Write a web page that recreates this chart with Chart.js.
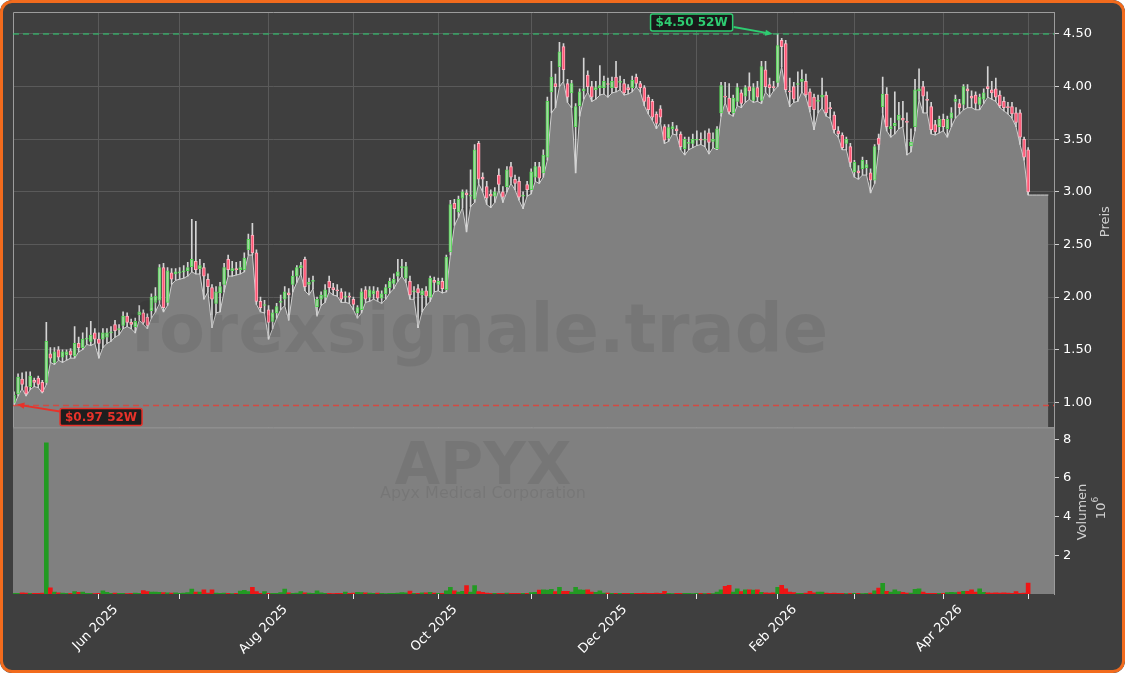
<!DOCTYPE html>
<html>
<head>
<meta charset="utf-8">
<script src="https://cdn.jsdelivr.net/npm/chart.js"></script>
<style>
  html,body{margin:0;padding:0;background:#ffffff;}
  #wrap{position:relative;width:1125px;height:673px;border-radius:12px;overflow:hidden;background:#3f3f3f;}
  #frame{position:absolute;left:0;top:0;right:0;bottom:0;border:3px solid #f26b1d;border-radius:12px;pointer-events:none;}
</style>
</head>
<body>
<div id="wrap"><canvas id="c"></canvas><div id="frame"></div></div>
<script>
// ---- Data (trading-day index 0 = 1 May 2025 ... 251 = 1 May 2026) ----
const opens = [
1.00,1.08,1.22,1.15,1.15,1.21,1.23,1.19,1.19,1.46,
1.38,1.50,1.43,1.45,1.49,1.44,1.56,1.52,1.60,1.58,
1.66,1.60,1.60,1.62,1.66,1.74,1.69,1.73,1.82,1.76,
1.72,1.83,1.85,1.81,1.87,1.95,1.97,2.28,1.95,2.23,
2.22,2.23,2.24,2.25,2.29,2.34,2.27,2.28,2.17,2.09,
1.94,2.04,2.12,2.36,2.25,2.27,2.26,2.26,2.45,2.59,
2.42,1.96,1.92,1.88,1.77,1.85,1.95,1.98,2.04,2.12,
2.20,2.28,2.36,2.12,2.15,1.91,1.98,2.00,2.15,2.09,
2.07,2.05,2.00,2.01,1.98,1.85,1.88,2.07,2.00,2.03,
2.06,1.99,2.03,2.09,2.13,2.20,2.28,2.18,2.15,2.05,
2.08,2.02,2.06,2.00,2.16,2.12,2.15,2.07,2.43,2.89,
2.81,2.94,2.99,2.96,2.93,3.46,3.14,3.05,2.98,2.96,
3.16,3.00,3.05,3.24,3.12,3.10,2.96,3.07,3.02,3.14,
3.24,3.18,3.33,3.95,4.03,4.19,4.38,4.03,3.94,3.62,
3.82,3.96,4.11,4.00,3.97,3.99,3.99,4.03,3.99,4.09,
4.04,4.03,3.99,3.99,4.09,4.03,3.99,3.90,3.86,3.74,
3.79,3.62,3.51,3.60,3.60,3.55,3.41,3.46,3.46,3.49,
3.50,3.49,3.56,3.48,3.41,3.75,3.91,3.89,3.75,3.86,
3.94,3.91,4.00,3.87,3.99,3.87,4.16,4.02,4.00,4.04,
4.44,4.41,3.96,4.00,4.02,4.05,4.05,3.95,3.90,3.86,
3.90,3.92,3.80,3.73,3.58,3.54,3.46,3.43,3.19,3.20,
3.22,3.23,3.18,3.11,3.51,3.81,3.93,3.60,3.63,3.68,
3.70,3.67,3.44,3.62,3.96,4.00,3.88,3.81,3.64,3.62,
3.69,3.60,3.70,3.86,3.84,3.83,3.98,3.91,3.92,3.83,
3.88,4.00,3.97,3.98,3.92,3.86,3.81,3.81,3.75,3.75,
3.50,3.40];
const highs = [
1.10,1.27,1.28,1.29,1.29,1.23,1.25,1.21,1.76,1.52,
1.52,1.53,1.50,1.50,1.51,1.72,1.62,1.66,1.71,1.77,
1.70,1.66,1.70,1.70,1.72,1.78,1.74,1.86,1.85,1.79,
1.80,1.92,1.88,1.84,2.03,2.09,2.31,2.32,2.28,2.27,
2.27,2.28,2.30,2.33,2.74,2.72,2.36,2.32,2.22,2.12,
2.10,2.14,2.32,2.40,2.34,2.33,2.34,2.42,2.60,2.70,
2.45,2.00,1.97,1.92,1.88,1.94,2.02,2.10,2.08,2.25,
2.30,2.33,2.38,2.18,2.20,2.00,2.05,2.12,2.20,2.13,
2.12,2.08,2.05,2.04,2.00,1.92,2.08,2.10,2.10,2.10,
2.09,2.06,2.12,2.18,2.22,2.36,2.36,2.33,2.20,2.10,
2.12,2.08,2.10,2.20,2.19,2.18,2.18,2.40,2.92,2.93,
2.96,3.02,3.02,3.21,3.45,3.48,3.18,3.10,3.02,3.04,
3.22,3.05,3.24,3.28,3.16,3.14,3.00,3.10,3.22,3.28,
3.28,3.40,3.90,4.24,4.12,4.42,4.41,4.07,4.06,3.84,
3.98,4.27,4.15,4.05,4.05,4.20,4.10,4.08,4.09,4.24,
4.10,4.07,4.02,4.10,4.12,4.05,4.01,3.92,3.88,3.76,
3.82,3.64,3.64,3.66,3.63,3.57,3.52,3.52,3.55,3.58,
3.56,3.58,3.60,3.56,3.62,4.04,4.04,4.03,3.92,4.03,
3.97,4.01,4.13,4.03,4.05,4.24,4.24,4.08,4.05,4.50,
4.46,4.44,4.08,4.04,4.14,4.16,4.12,3.98,3.93,3.92,
4.08,3.95,3.85,3.76,3.62,3.56,3.52,3.46,3.30,3.25,
3.33,3.30,3.22,3.45,3.55,4.09,3.99,3.70,3.95,3.85,
3.86,3.75,3.60,4.07,4.17,4.05,3.95,3.85,3.68,3.72,
3.74,3.72,3.80,3.92,3.88,4.02,4.02,3.96,3.95,3.93,
3.98,4.19,4.05,4.08,3.96,3.90,3.85,3.85,3.80,3.78,
3.52,3.42];
const lows = [
0.97,1.06,1.13,1.06,1.12,1.15,1.14,1.09,1.17,1.38,
1.36,1.40,1.38,1.40,1.42,1.42,1.48,1.50,1.55,1.54,
1.56,1.42,1.52,1.56,1.58,1.62,1.64,1.70,1.72,1.70,
1.66,1.78,1.74,1.70,1.80,1.86,1.94,1.86,1.92,2.12,
2.16,2.17,2.18,2.20,2.24,2.22,2.22,1.98,2.05,1.71,
1.85,1.86,2.05,2.20,2.20,2.21,2.22,2.24,2.40,2.40,
1.93,1.86,1.85,1.60,1.70,1.80,1.88,1.92,1.78,2.05,
2.14,2.22,2.06,2.02,2.08,1.82,1.92,1.95,2.05,2.02,
2.01,1.95,1.95,1.94,1.88,1.80,1.85,1.95,1.96,1.98,
1.96,1.94,1.98,2.04,2.08,2.15,2.20,2.14,1.98,1.98,
1.71,1.86,1.92,1.96,2.05,2.06,2.04,2.05,2.40,2.68,
2.76,2.85,2.62,2.86,2.90,3.08,3.00,2.88,2.85,2.90,
3.02,2.90,3.00,3.08,3.02,2.92,2.84,2.96,2.98,3.10,
3.08,3.14,3.30,3.75,3.80,4.00,4.05,3.85,3.80,3.18,
3.72,3.88,3.95,3.86,3.88,3.92,3.93,3.90,3.94,3.95,
3.97,3.92,3.93,3.95,4.00,3.95,3.82,3.74,3.68,3.60,
3.66,3.46,3.48,3.55,3.54,3.40,3.35,3.40,3.42,3.44,
3.45,3.43,3.36,3.42,3.40,3.72,3.85,3.74,3.72,3.82,
3.80,3.85,3.88,3.85,3.86,3.84,3.95,3.90,3.96,4.00,
4.19,3.95,3.81,3.85,3.86,3.95,3.90,3.76,3.59,3.75,
3.80,3.72,3.70,3.56,3.52,3.40,3.40,3.24,3.14,3.12,
3.16,3.16,2.99,3.08,3.40,3.75,3.58,3.52,3.55,3.60,
3.62,3.35,3.38,3.58,3.88,3.75,3.75,3.55,3.54,3.56,
3.58,3.52,3.62,3.70,3.74,3.78,3.80,3.80,3.78,3.78,
3.84,3.90,3.88,3.86,3.80,3.77,3.74,3.70,3.62,3.45,
3.30,2.97];
const closes = [
1.07,1.24,1.17,1.08,1.25,1.19,1.17,1.10,1.58,1.42,
1.48,1.43,1.48,1.48,1.45,1.56,1.52,1.60,1.61,1.64,
1.60,1.56,1.66,1.66,1.67,1.68,1.70,1.82,1.76,1.74,
1.77,1.86,1.76,1.73,2.00,2.01,2.28,1.90,2.25,2.17,
2.24,2.24,2.25,2.28,2.36,2.26,2.30,2.20,2.10,1.98,
2.05,2.10,2.28,2.26,2.27,2.26,2.28,2.37,2.55,2.42,
1.96,1.90,1.93,1.76,1.85,1.91,1.96,2.05,2.02,2.20,
2.28,2.30,2.10,2.14,2.16,1.98,2.02,2.07,2.09,2.07,
2.06,1.98,2.01,2.00,1.93,1.90,2.05,1.98,2.07,2.06,
1.99,2.03,2.09,2.15,2.17,2.24,2.29,2.29,2.02,2.06,
2.04,2.06,2.01,2.18,2.14,2.15,2.08,2.38,2.88,2.84,
2.93,3.00,2.97,2.97,3.40,3.12,3.12,2.94,2.96,3.00,
3.07,2.95,3.21,3.14,3.08,2.95,2.97,3.02,3.19,3.24,
3.13,3.35,3.86,4.09,4.00,4.33,4.16,3.90,4.03,3.81,
3.95,3.98,4.00,3.90,3.99,4.01,4.05,4.02,4.05,3.99,
4.05,3.94,3.97,4.06,4.03,3.99,3.86,3.78,3.71,3.65,
3.71,3.49,3.61,3.62,3.58,3.43,3.50,3.47,3.50,3.50,
3.49,3.50,3.47,3.50,3.60,4.01,3.90,3.76,3.89,3.99,
3.84,3.99,3.96,3.99,3.90,4.19,4.00,3.99,3.99,4.39,
4.38,3.97,3.95,3.88,4.03,4.07,3.92,3.81,3.78,3.87,
3.92,3.75,3.79,3.59,3.55,3.42,3.50,3.28,3.28,3.18,
3.30,3.26,3.11,3.43,3.45,3.93,3.62,3.62,3.65,3.73,
3.68,3.66,3.47,3.97,3.98,3.91,3.87,3.59,3.57,3.69,
3.62,3.69,3.75,3.88,3.80,4.00,3.96,3.89,3.84,3.90,
3.94,3.98,3.94,3.90,3.82,3.80,3.80,3.74,3.66,3.52,
3.33,3.00];
// volume in millions
const volumes = [
0.03,0.04,0.06,0.05,0.04,0.03,0.04,0.05,7.82,0.32,
0.10,0.06,0.05,0.04,0.04,0.12,0.08,0.10,0.04,0.03,
0.02,0.03,0.16,0.08,0.03,0.05,0.04,0.03,0.02,0.03,
0.05,0.04,0.18,0.12,0.10,0.10,0.08,0.07,0.06,0.05,
0.06,0.04,0.05,0.07,0.26,0.10,0.10,0.22,0.05,0.22,
0.05,0.04,0.05,0.03,0.02,0.03,0.15,0.19,0.12,0.34,
0.12,0.04,0.13,0.04,0.03,0.04,0.07,0.26,0.06,0.04,
0.05,0.13,0.06,0.05,0.04,0.17,0.06,0.04,0.03,0.02,
0.03,0.03,0.10,0.03,0.05,0.08,0.07,0.06,0.05,0.04,
0.05,0.04,0.02,0.03,0.03,0.05,0.07,0.06,0.15,0.03,
0.04,0.06,0.06,0.08,0.05,0.04,0.04,0.17,0.34,0.17,
0.10,0.14,0.43,0.10,0.43,0.12,0.08,0.05,0.03,0.04,
0.04,0.03,0.05,0.03,0.04,0.04,0.03,0.04,0.07,0.08,
0.20,0.22,0.20,0.24,0.12,0.34,0.14,0.14,0.10,0.34,
0.22,0.20,0.22,0.10,0.08,0.17,0.05,0.05,0.04,0.04,
0.03,0.04,0.03,0.03,0.04,0.04,0.05,0.04,0.04,0.05,
0.04,0.14,0.03,0.02,0.03,0.04,0.04,0.03,0.02,0.03,
0.03,0.02,0.04,0.02,0.10,0.22,0.40,0.45,0.10,0.27,
0.12,0.22,0.22,0.20,0.22,0.08,0.06,0.05,0.06,0.34,
0.45,0.27,0.10,0.07,0.04,0.04,0.05,0.14,0.06,0.10,
0.10,0.05,0.04,0.05,0.04,0.03,0.02,0.03,0.03,0.03,
0.02,0.04,0.05,0.17,0.30,0.55,0.14,0.10,0.22,0.12,
0.08,0.05,0.05,0.24,0.27,0.10,0.04,0.04,0.03,0.04,
0.03,0.07,0.08,0.07,0.10,0.14,0.14,0.22,0.10,0.27,
0.08,0.06,0.05,0.06,0.05,0.06,0.05,0.04,0.12,0.04,
0.05,0.57];
// flat tail of the price area after the last session
const areaTail = [2.97, 2.97, 2.97, 2.97, 2.97];
// first trading day of each month (index) and labels
const monthTickIdx = [21, 41, 63, 84, 105, 128, 147, 169, 189, 208, 230, 251];
const monthTickLabels = ['Jun 2025','','Aug 2025','','Oct 2025','','Dec 2025','','Feb 2026','','Apr 2026',''];
const priceTicks = [1.00, 1.50, 2.00, 2.50, 3.00, 3.50, 4.00, 4.50];
const volumeTicks = [2, 4, 6, 8];
const high52 = 4.50, high52Idx = 189;
const low52 = 0.97, low52Idx = 0;

// ---- Build datasets ----
const up = opens.map((o, i) => closes[i] >= o);
const areaData = lows.map((v, i) => ({x: i, y: v}))
  .concat(areaTail.map((v, k) => ({x: lows.length + k, y: v})));
const wickData = lows.map((l, i) => ({x: i, y: [l, highs[i]]}));
const bodyData = opens.map((o, i) => ({x: i, y: [o, closes[i]]}));
const volData = volumes.map((v, i) => ({x: i, y: v}));

const FONT = '"DejaVu Sans", sans-serif';

function roundRect(ctx, x, y, w, h, r) {
  ctx.beginPath();
  ctx.moveTo(x + r, y); ctx.lineTo(x + w - r, y); ctx.quadraticCurveTo(x + w, y, x + w, y + r);
  ctx.lineTo(x + w, y + h - r); ctx.quadraticCurveTo(x + w, y + h, x + w - r, y + h);
  ctx.lineTo(x + r, y + h); ctx.quadraticCurveTo(x, y + h, x, y + h - r);
  ctx.lineTo(x, y + r); ctx.quadraticCurveTo(x, y, x + r, y);
  ctx.closePath();
}
function arrow(ctx, x1, y1, x2, y2, color) {
  const ang = Math.atan2(y2 - y1, x2 - x1), hl = 8;
  ctx.strokeStyle = color; ctx.fillStyle = color; ctx.lineWidth = 1.8; ctx.setLineDash([]);
  ctx.beginPath(); ctx.moveTo(x1, y1);
  ctx.lineTo(x2 - Math.cos(ang) * hl * 0.8, y2 - Math.sin(ang) * hl * 0.8); ctx.stroke();
  ctx.beginPath(); ctx.moveTo(x2, y2);
  ctx.lineTo(x2 - hl * Math.cos(ang - 0.4), y2 - hl * Math.sin(ang - 0.4));
  ctx.lineTo(x2 - hl * Math.cos(ang + 0.4), y2 - hl * Math.sin(ang + 0.4));
  ctx.closePath(); ctx.fill();
}
function tag(ctx, text, color, left, top) {
  ctx.font = 'bold 12px ' + FONT;
  const w = ctx.measureText(text).width + 10, h = 17;
  roundRect(ctx, left, top, w, h, 2);
  ctx.fillStyle = 'rgba(22,22,22,0.92)'; ctx.fill();
  ctx.strokeStyle = color; ctx.lineWidth = 1.5; ctx.setLineDash([]); ctx.stroke();
  ctx.fillStyle = color; ctx.textAlign = 'left'; ctx.textBaseline = 'middle';
  ctx.fillText(text, left + 5, top + h / 2 + 0.5);
  return w;
}

const deco = {
  id: 'deco',
  beforeDatasetsDraw(chart) {
    const {ctx, chartArea: a, scales} = chart;
    const yv = scales.yv;
    ctx.save();
    ctx.fillStyle = '#808080';
    ctx.fillRect(a.left, yv.top, a.right - a.left, yv.bottom - yv.top);
    ctx.restore();
  },
  afterDatasetsDraw(chart) {
    const {ctx, chartArea: a, scales} = chart;
    const x = scales.x, y = scales.y, yv = scales.yv;
    ctx.save();
    // watermarks
    ctx.fillStyle = 'rgba(0,0,0,0.075)';
    ctx.textAlign = 'center'; ctx.textBaseline = 'alphabetic';
    ctx.font = 'bold 67px ' + FONT; ctx.fillText('forexsignale.trade', 479, 352);
    ctx.font = 'bold 59px ' + FONT; ctx.fillText('APYX', 483, 484);
    ctx.font = '16px ' + FONT; ctx.fillText('Apyx Medical Corporation', 483, 498);

    // price panel frame
    ctx.strokeStyle = '#9c9c9c'; ctx.lineWidth = 1;
    ctx.beginPath();
    ctx.moveTo(a.left + 0.5, y.bottom); ctx.lineTo(a.left + 0.5, y.top + 0.5); ctx.lineTo(a.right, y.top + 0.5);
    ctx.moveTo(a.left, y.bottom + 0.5); ctx.lineTo(a.right, y.bottom + 0.5);
    ctx.stroke();

    // 52W lines
    const yh = y.getPixelForValue(high52), yl = y.getPixelForValue(low52);
    ctx.lineWidth = 1.5; ctx.setLineDash([6, 4]);
    ctx.strokeStyle = 'rgba(46,204,113,0.7)';
    ctx.beginPath(); ctx.moveTo(a.left, yh); ctx.lineTo(a.right, yh); ctx.stroke();
    ctx.strokeStyle = 'rgba(231,60,50,0.8)';
    ctx.beginPath(); ctx.moveTo(a.left, yl); ctx.lineTo(a.right, yl); ctx.stroke();

    // 52W high tag
    const green = '#2ecc71', red = '#e8322a';
    const hx = x.getPixelForValue(high52Idx) - 5;
    ctx.font = 'bold 12px ' + FONT;
    const hw = ctx.measureText('$4.50 52W').width + 10;
    const hLeft = hx - 40 - hw, hTop = yh - 20;
    tag(ctx, '$' + high52.toFixed(2) + ' 52W', green, hLeft, hTop);
    arrow(ctx, hLeft + hw + 1, hTop + 13, hx, yh, green);
    // 52W low tag
    const lx = x.getPixelForValue(low52Idx) + 3;
    const lLeft = lx + 43, lTop = yl + 3;
    tag(ctx, '$' + low52.toFixed(2) + ' 52W', red, lLeft, lTop);
    arrow(ctx, lLeft, lTop + 3, lx, yl - 1, red);

    // axis titles
    ctx.fillStyle = '#d0d0d0'; ctx.textBaseline = 'middle'; ctx.textAlign = 'center';
    ctx.font = '13px ' + FONT;
    ctx.save(); ctx.translate(1106, (y.top + y.bottom) / 2 + 2); ctx.rotate(-Math.PI / 2);
    ctx.fillText('Preis', 0, 0); ctx.restore();
    ctx.save(); ctx.translate(1083, 512); ctx.rotate(-Math.PI / 2);
    ctx.fillText('Volumen', 0, 0); ctx.restore();
    ctx.save(); ctx.translate(1100, 508); ctx.rotate(-Math.PI / 2);
    ctx.textAlign = 'left';
    ctx.font = '13px ' + FONT; const w10 = ctx.measureText('10').width;
    ctx.font = '9px ' + FONT; const w6 = ctx.measureText('6').width;
    const sx = -(w10 + w6) / 2;
    ctx.font = '13px ' + FONT; ctx.fillText('10', sx, 2);
    ctx.font = '9px ' + FONT; ctx.fillText('6', sx + w10, -4);
    ctx.restore();
    ctx.restore();
  }
};

Chart.defaults.font.family = FONT;
Chart.defaults.color = '#ffffff';

new Chart(document.getElementById('c'), {
  type: 'bar',
  data: {
    datasets: [
      { type: 'line', label: 'area', data: areaData, yAxisID: 'y', xAxisID: 'x',
        fill: 'start', backgroundColor: '#808080', borderColor: '#cfcfcf', borderWidth: 1,
        pointRadius: 0, tension: 0, order: 10 },
      { type: 'bar', label: 'volume', data: volData, yAxisID: 'yv', xAxisID: 'x',
        backgroundColor: up.map(u => u ? '#229a22' : '#ee1515'), barThickness: 4,
        grouped: false, order: 6 },
      { type: 'bar', label: 'wick', data: wickData, yAxisID: 'y', xAxisID: 'x',
        backgroundColor: '#d4d4d4', barThickness: 1, grouped: false, order: 4 },
      { type: 'bar', label: 'body', data: bodyData, yAxisID: 'y', xAxisID: 'x',
        backgroundColor: up.map(u => u ? '#a3d6a3' : '#ff5473'),
        borderColor: up.map(u => u ? '#55d855' : '#ffb3c1'),
        borderWidth: 1, borderSkipped: false, barThickness: 3, grouped: false, order: 1 }
    ]
  },
  options: {
    responsive: true, maintainAspectRatio: false, animation: false, events: [],
    layout: { padding: { left: 13, top: 12, right: 0, bottom: 0 } },
    plugins: { legend: { display: false }, tooltip: { enabled: false } },
    scales: {
      x: {
        type: 'linear', position: 'bottom', min: -0.25, max: 257.4, offset: false,
        afterBuildTicks: s => { s.ticks = monthTickIdx.map(v => ({value: v})); },
        afterFit: s => { s.height = 79; },
        ticks: {
          autoSkip: false, maxRotation: 45, minRotation: 45, color: '#ffffff',
          font: { size: 13, family: FONT }, padding: 3, labelOffset: 17,
          callback: (v) => { const k = monthTickIdx.indexOf(v); return k >= 0 ? monthTickLabels[k] : ''; }
        },
        grid: { offset: false, color: '#5a5a5a', lineWidth: 1, drawOnChartArea: true, drawTicks: true,
                tickLength: 5, tickColor: '#e6e6e6', tickWidth: 1 },
        border: { display: false }
      },
      y: {
        type: 'linear', position: 'right', stack: 'panels', stackWeight: 416, weight: 1,
        min: 0.763, max: 4.709,
        afterBuildTicks: s => { s.ticks = priceTicks.map(v => ({value: v})); },
        afterFit: s => { s.width = 71; },
        ticks: { color: '#ffffff', font: { size: 13, family: FONT }, padding: 4,
                 callback: v => Number(v).toFixed(2) },
        grid: { color: '#5a5a5a', lineWidth: 1, tickLength: 5, tickColor: '#d0d0d0' },
        border: { display: true, color: '#9c9c9c' }
      },
      yv: {
        type: 'linear', position: 'right', stack: 'panels', stackWeight: 167, weight: 2,
        min: 0, max: 8.62,
        afterBuildTicks: s => { s.ticks = volumeTicks.map(v => ({value: v})); },
        afterFit: s => { s.width = 71; },
        ticks: { color: '#ffffff', font: { size: 13, family: FONT }, padding: 4,
                 callback: v => String(v) },
        grid: { drawOnChartArea: false, tickLength: 5, tickColor: '#d0d0d0' },
        border: { display: true, color: '#9c9c9c' }
      }
    }
  },
  plugins: [deco]
});
</script>
</body>
</html>
